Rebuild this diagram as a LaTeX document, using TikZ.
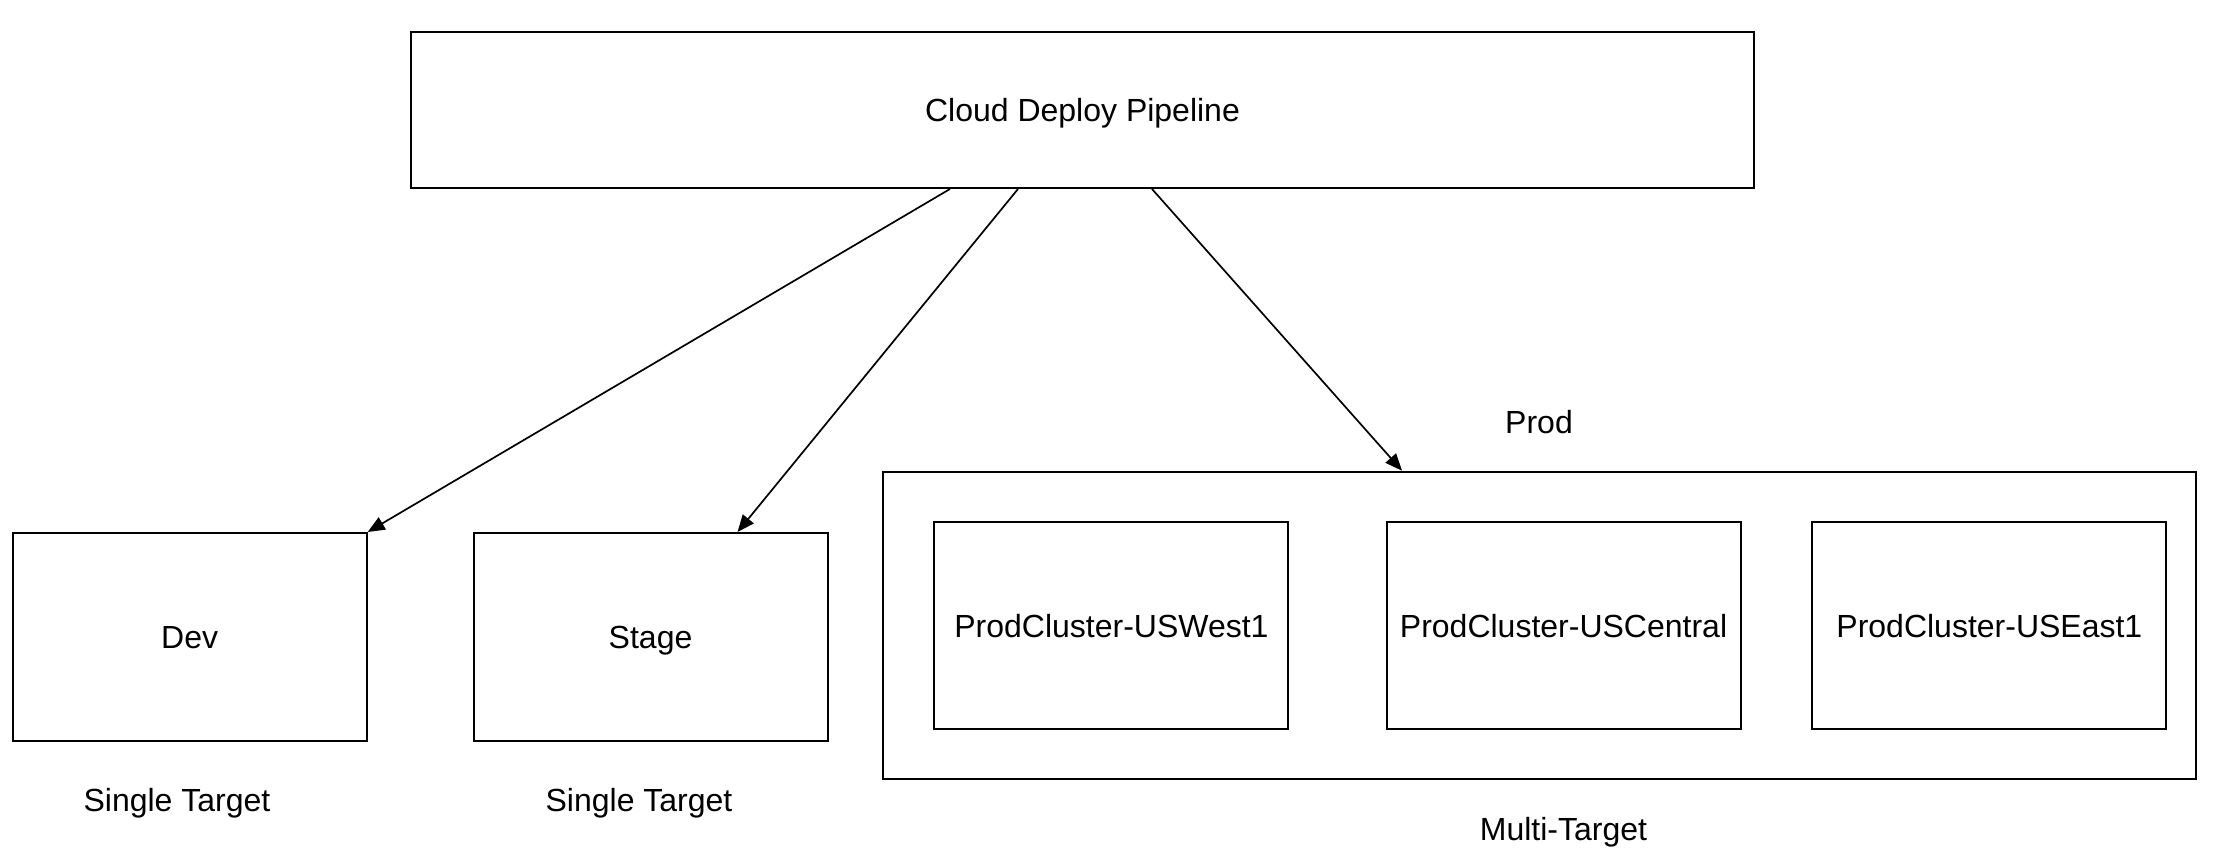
\documentclass[tikz,border=0pt]{standalone}
\usepackage{fontspec}
\setmainfont{Liberation Sans}
\usetikzlibrary{arrows.meta}
\begin{document}
\begin{tikzpicture}[x=0.5pt,y=-0.5pt,
  box/.style={draw=black, line width=1pt, inner sep=0pt, text height=11.5pt, text depth=0pt, font=\fontsize{16}{19}\selectfont},
  lbl/.style={inner sep=0pt, text height=11.5pt, text depth=0pt, font=\fontsize{16}{19}\selectfont},
  conn/.style={line width=0.85pt, -{Triangle[length=8.5pt,width=7pt]}}]
\useasboundingbox (0,0) rectangle (2218,860);
\node[box, minimum width=671.9pt, minimum height=78.1pt] (pipe) at (1082.5,109.9) {Cloud Deploy Pipeline};
\node[box, minimum width=177pt, minimum height=104.25pt] (dev) at (189.7,637.25) {Dev};
\node[box, minimum width=177pt, minimum height=104.25pt] (stage) at (650.55,637.25) {Stage};
\node[box, minimum width=656.6pt, minimum height=153.55pt] (prod) at (1539.4,625.25) {};
\node[box, minimum width=177pt, minimum height=103.65pt] (west) at (1111.45,625.75) {ProdCluster-USWest1};
\node[box, minimum width=177pt, minimum height=103.65pt] (central) at (1563.55,625.75) {ProdCluster-USCentral};
\node[box, minimum width=177pt, minimum height=103.65pt] (east) at (1989.35,625.75) {ProdCluster-USEast1};
\node[lbl] (devlbl) at (177,800) {Single Target};
\node[lbl] (stagelbl) at (639,800) {Single Target};
\node[lbl] (prodlbl) at (1539,422) {Prod};
\node[lbl] (multilbl) at (1563.5,829) {Multi-Target};
\coordinate (s1) at ([xshift=-66.25pt]pipe.south);
\coordinate (s2) at ([xshift=-32.25pt]pipe.south);
\coordinate (s3) at ([xshift=34.75pt]pipe.south);
\draw[conn] (s1) -- (dev.north east);
\draw[conn] (s2) -- ([xshift=43.5pt]stage.north);
\draw[conn] (s3) -- ([xshift=-68.7pt]prod.north);
\end{tikzpicture}
\end{document}
